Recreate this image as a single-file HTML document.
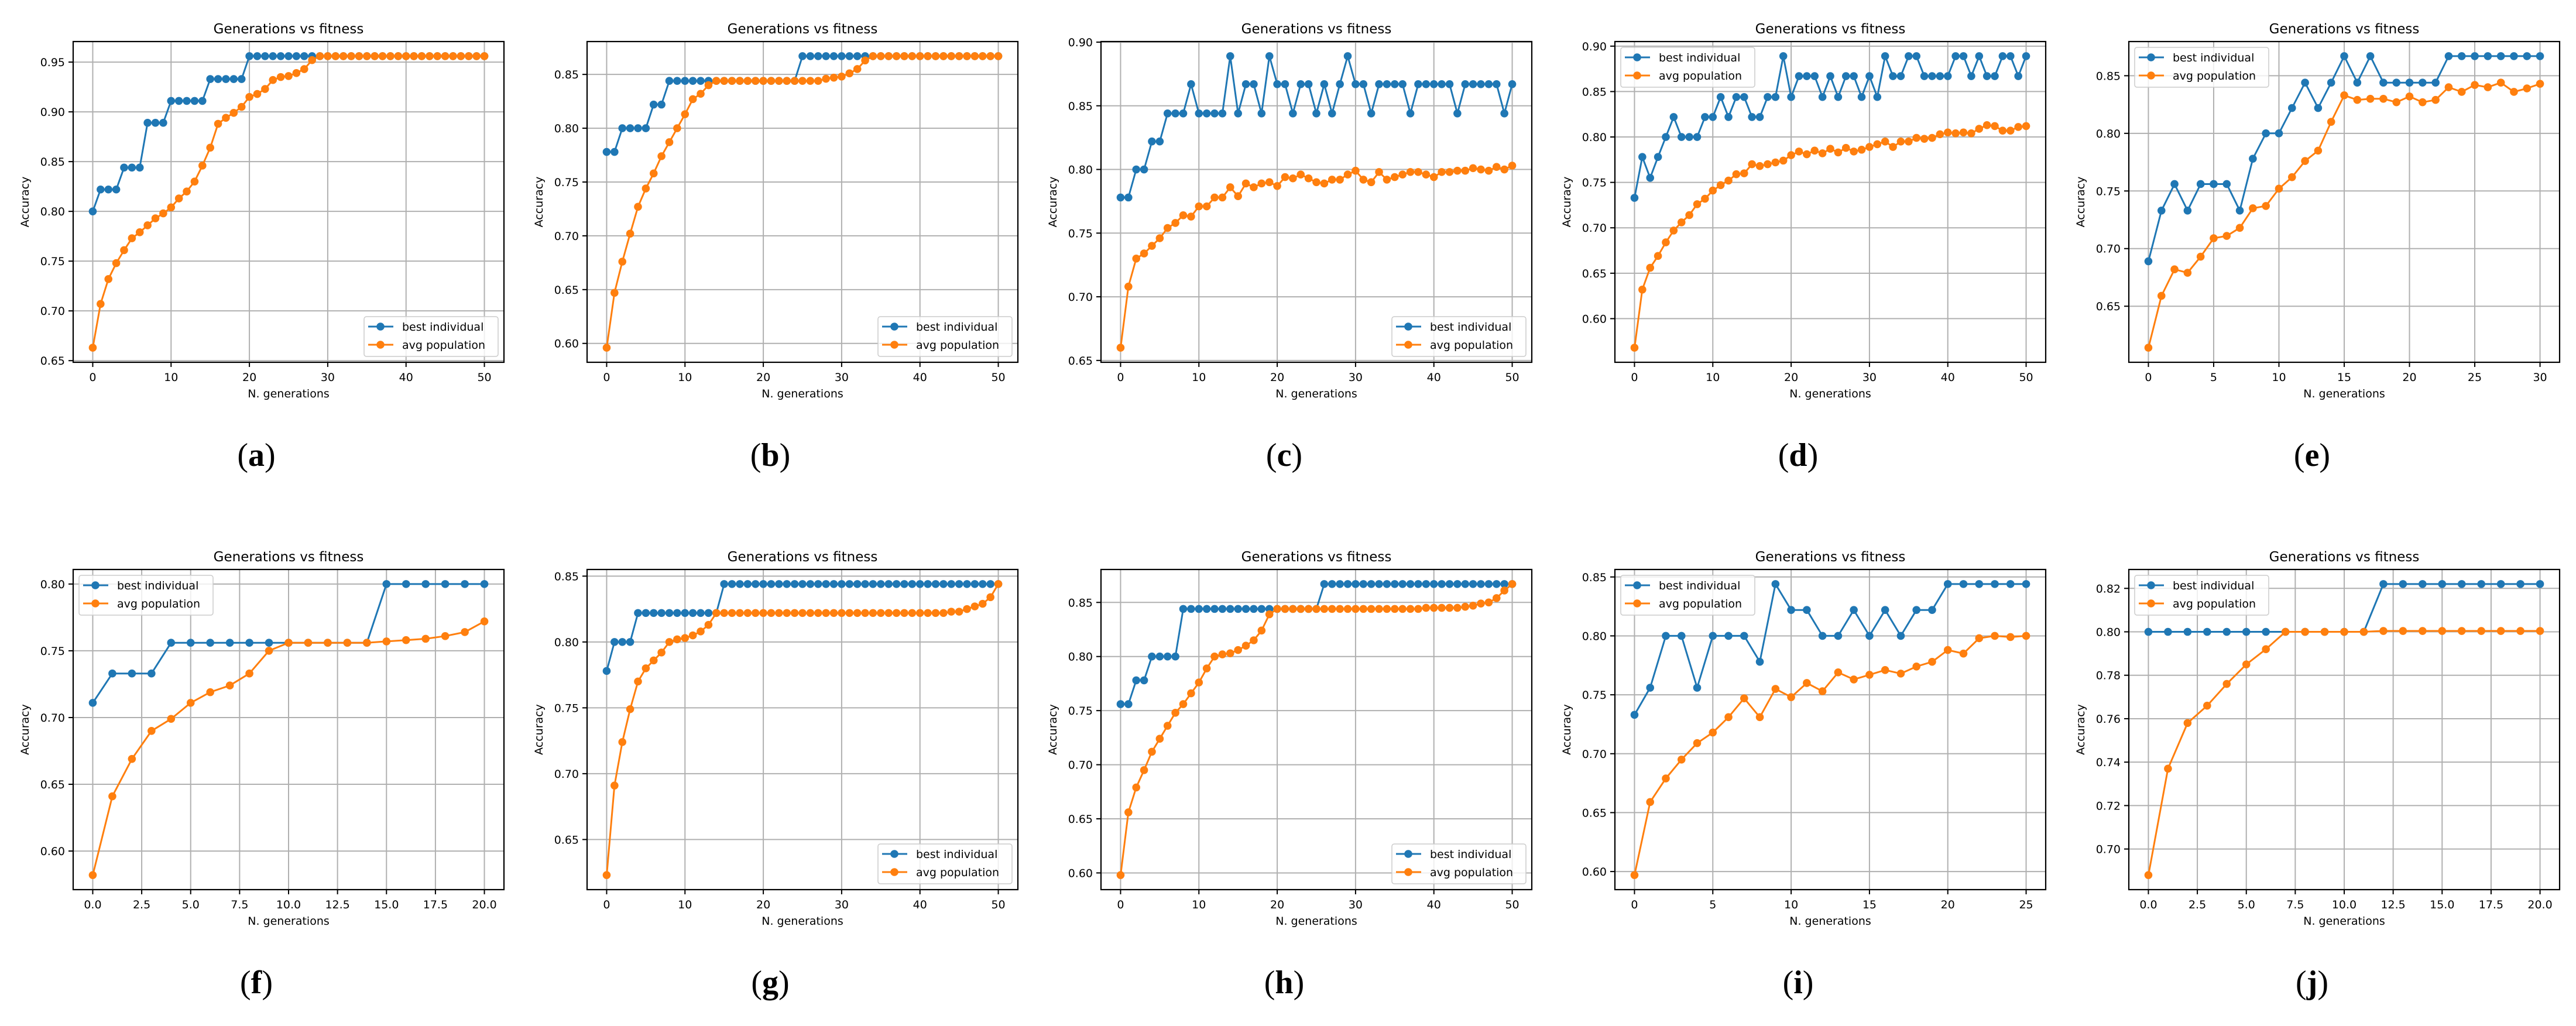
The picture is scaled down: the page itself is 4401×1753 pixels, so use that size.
<!DOCTYPE html>
<html><head><meta charset="utf-8"><style>
html,body{margin:0;padding:0;background:#fff;}
svg{display:block;}
text{font-family:"DejaVu Sans","Liberation Sans",sans-serif;fill:#000;}
.lett{font-family:"Liberation Serif",serif;}
</style></head><body>
<svg id="fig" xmlns="http://www.w3.org/2000/svg" width="4401" height="1753" viewBox="0 0 4401 1753"></svg>
<script>
// ---- data ----
const bestA=[0.800,0.822,0.822,0.822,0.844,0.844,0.844,0.889,0.889,0.889,0.911,0.911,0.911,0.911,0.911,0.933,0.933,0.933,0.933,0.933,0.956,0.956,0.956,0.956,0.956,0.956,0.956,0.956,0.956,0.956,0.956,0.956,0.956,0.956,0.956,0.956,0.956,0.956,0.956,0.956,0.956,0.956,0.956,0.956,0.956,0.956,0.956,0.956,0.956,0.956,0.956];
const avgA=[0.663,0.707,0.732,0.748,0.761,0.773,0.779,0.786,0.793,0.798,0.804,0.813,0.820,0.830,0.846,0.864,0.888,0.894,0.899,0.905,0.915,0.918,0.923,0.932,0.935,0.936,0.939,0.943,0.952,0.956,0.956,0.956,0.956,0.956,0.956,0.956,0.956,0.956,0.956,0.956,0.956,0.956,0.956,0.956,0.956,0.956,0.956,0.956,0.956,0.956,0.956];
const bestB=[0.778,0.778,0.800,0.800,0.800,0.800,0.822,0.822,0.844,0.844,0.844,0.844,0.844,0.844,0.844,0.844,0.844,0.844,0.844,0.844,0.844,0.844,0.844,0.844,0.844,0.867,0.867,0.867,0.867,0.867,0.867,0.867,0.867,0.867,0.867,0.867,0.867,0.867,0.867,0.867,0.867,0.867,0.867,0.867,0.867,0.867,0.867,0.867,0.867,0.867,0.867];
const avgB=[0.596,0.647,0.676,0.702,0.727,0.744,0.758,0.774,0.787,0.800,0.813,0.827,0.832,0.840,0.844,0.844,0.844,0.844,0.844,0.844,0.844,0.844,0.844,0.844,0.844,0.844,0.844,0.844,0.846,0.847,0.848,0.851,0.855,0.863,0.867,0.867,0.867,0.867,0.867,0.867,0.867,0.867,0.867,0.867,0.867,0.867,0.867,0.867,0.867,0.867,0.867];
const bestC=[0.778,0.778,0.800,0.800,0.822,0.822,0.844,0.844,0.844,0.867,0.844,0.844,0.844,0.844,0.889,0.844,0.867,0.867,0.844,0.889,0.867,0.867,0.844,0.867,0.867,0.844,0.867,0.844,0.867,0.889,0.867,0.867,0.844,0.867,0.867,0.867,0.867,0.844,0.867,0.867,0.867,0.867,0.867,0.844,0.867,0.867,0.867,0.867,0.867,0.844,0.867];
const avgC=[0.660,0.708,0.730,0.734,0.740,0.746,0.754,0.758,0.764,0.763,0.771,0.771,0.778,0.778,0.786,0.779,0.789,0.786,0.789,0.790,0.787,0.794,0.793,0.796,0.793,0.790,0.789,0.792,0.792,0.796,0.799,0.792,0.790,0.798,0.792,0.794,0.796,0.798,0.798,0.796,0.794,0.798,0.798,0.799,0.799,0.801,0.800,0.799,0.802,0.800,0.803];
const bestD=[0.733,0.778,0.755,0.778,0.800,0.822,0.800,0.800,0.800,0.822,0.822,0.844,0.822,0.844,0.844,0.822,0.822,0.844,0.844,0.889,0.844,0.867,0.867,0.867,0.844,0.867,0.844,0.867,0.867,0.844,0.867,0.844,0.889,0.867,0.867,0.889,0.889,0.867,0.867,0.867,0.867,0.889,0.889,0.867,0.889,0.867,0.867,0.889,0.889,0.867,0.889];
const avgD=[0.568,0.632,0.656,0.669,0.684,0.697,0.706,0.714,0.726,0.732,0.741,0.747,0.752,0.759,0.760,0.770,0.768,0.770,0.772,0.774,0.780,0.784,0.781,0.785,0.782,0.787,0.783,0.788,0.784,0.786,0.789,0.792,0.795,0.789,0.795,0.795,0.799,0.798,0.799,0.803,0.805,0.804,0.805,0.804,0.809,0.813,0.812,0.807,0.807,0.811,0.812];
const bestE=[0.689,0.733,0.756,0.733,0.756,0.756,0.756,0.733,0.778,0.800,0.800,0.822,0.844,0.822,0.844,0.867,0.844,0.867,0.844,0.844,0.844,0.844,0.844,0.867,0.867,0.867,0.867,0.867,0.867,0.867,0.867];
const avgE=[0.614,0.659,0.682,0.679,0.693,0.709,0.711,0.718,0.735,0.737,0.752,0.762,0.776,0.785,0.810,0.833,0.829,0.830,0.830,0.827,0.832,0.827,0.829,0.840,0.836,0.842,0.840,0.844,0.836,0.839,0.843];
const bestF=[0.711,0.733,0.733,0.733,0.756,0.756,0.756,0.756,0.756,0.756,0.756,0.756,0.756,0.756,0.756,0.800,0.800,0.800,0.800,0.800,0.800];
const avgF=[0.582,0.641,0.669,0.690,0.699,0.711,0.719,0.724,0.733,0.750,0.756,0.756,0.756,0.756,0.756,0.757,0.758,0.759,0.761,0.764,0.772];
const bestG=[0.778,0.800,0.800,0.800,0.822,0.822,0.822,0.822,0.822,0.822,0.822,0.822,0.822,0.822,0.822,0.844,0.844,0.844,0.844,0.844,0.844,0.844,0.844,0.844,0.844,0.844,0.844,0.844,0.844,0.844,0.844,0.844,0.844,0.844,0.844,0.844,0.844,0.844,0.844,0.844,0.844,0.844,0.844,0.844,0.844,0.844,0.844,0.844,0.844,0.844,0.844];
const avgG=[0.623,0.691,0.724,0.749,0.770,0.780,0.786,0.792,0.800,0.802,0.803,0.805,0.808,0.813,0.822,0.822,0.822,0.822,0.822,0.822,0.822,0.822,0.822,0.822,0.822,0.822,0.822,0.822,0.822,0.822,0.822,0.822,0.822,0.822,0.822,0.822,0.822,0.822,0.822,0.822,0.822,0.822,0.822,0.822,0.823,0.823,0.825,0.827,0.829,0.834,0.844];
const bestH=[0.756,0.756,0.778,0.778,0.800,0.800,0.800,0.800,0.844,0.844,0.844,0.844,0.844,0.844,0.844,0.844,0.844,0.844,0.844,0.844,0.844,0.844,0.844,0.844,0.844,0.844,0.867,0.867,0.867,0.867,0.867,0.867,0.867,0.867,0.867,0.867,0.867,0.867,0.867,0.867,0.867,0.867,0.867,0.867,0.867,0.867,0.867,0.867,0.867,0.867,0.867];
const avgH=[0.598,0.656,0.679,0.695,0.712,0.724,0.736,0.748,0.756,0.766,0.776,0.789,0.800,0.802,0.803,0.806,0.810,0.815,0.824,0.839,0.844,0.844,0.844,0.844,0.844,0.844,0.844,0.844,0.844,0.844,0.844,0.844,0.844,0.844,0.844,0.844,0.844,0.844,0.844,0.845,0.845,0.845,0.845,0.845,0.846,0.847,0.849,0.850,0.854,0.861,0.867];
const bestI=[0.733,0.756,0.800,0.800,0.756,0.800,0.800,0.800,0.778,0.844,0.822,0.822,0.800,0.800,0.822,0.800,0.822,0.800,0.822,0.822,0.844,0.844,0.844,0.844,0.844,0.844];
const avgI=[0.597,0.659,0.679,0.695,0.709,0.718,0.731,0.747,0.731,0.755,0.748,0.760,0.753,0.769,0.763,0.767,0.771,0.768,0.774,0.778,0.788,0.785,0.798,0.800,0.799,0.800];
const bestJ=[0.800,0.800,0.800,0.800,0.800,0.800,0.800,0.800,0.800,0.800,0.800,0.800,0.822,0.822,0.822,0.822,0.822,0.822,0.822,0.822,0.822];
const avgJ=[0.688,0.737,0.758,0.766,0.776,0.785,0.792,0.800,0.800,0.800,0.800,0.800,0.8004,0.8004,0.8004,0.8004,0.8004,0.8004,0.8004,0.8004,0.8004];
const yTicks05a=[0.65,0.70,0.75,0.80,0.85,0.90,0.95];
const yTicksB=[0.60,0.65,0.70,0.75,0.80,0.85];
const yTicksC=[0.65,0.70,0.75,0.80,0.85,0.90];
const yTicksD=[0.60,0.65,0.70,0.75,0.80,0.85,0.90];
const yTicksE=[0.65,0.70,0.75,0.80,0.85];
const yTicksF=[0.60,0.65,0.70,0.75,0.80];
const yTicksG=[0.65,0.70,0.75,0.80,0.85];
const yTicksJ=[0.70,0.72,0.74,0.76,0.78,0.80,0.82];
const xTicks50=[0,10,20,30,40,50];
const xTicks30=[0,5,10,15,20,25,30];
const xTicks25=[0,5,10,15,20,25];
const xTicks20=[0,2.5,5,7.5,10,12.5,15,17.5,20];
const letters=['a','b','c','d','e','f','g','h','i','j'];

// ---- rendering ----
const NS='http://www.w3.org/2000/svg';
const svg=document.getElementById('fig');
function mk(tag,attrs,parent){const e=document.createElementNS(NS,tag);for(const k in attrs)e.setAttribute(k,attrs[k]);(parent||svg).appendChild(e);return e;}
const BLUE='#1f77b4',ORANGE='#ff7f0e';
const panels=[
 {best:bestA,avg:avgA,yt:yTicks05a,xt:xTicks50,dec:0,leg:'lr'},
 {best:bestB,avg:avgB,yt:yTicksB,xt:xTicks50,dec:0,leg:'lr'},
 {best:bestC,avg:avgC,yt:yTicksC,xt:xTicks50,dec:0,leg:'lr'},
 {best:bestD,avg:avgD,yt:yTicksD,xt:xTicks50,dec:0,leg:'ul'},
 {best:bestE,avg:avgE,yt:yTicksE,xt:xTicks30,dec:0,leg:'ul'},
 {best:bestF,avg:avgF,yt:yTicksF,xt:xTicks20,dec:1,leg:'ul'},
 {best:bestG,avg:avgG,yt:yTicksG,xt:xTicks50,dec:0,leg:'lr'},
 {best:bestH,avg:avgH,yt:yTicksB,xt:xTicks50,dec:0,leg:'lr'},
 {best:bestI,avg:avgI,yt:yTicksB,xt:xTicks25,dec:0,leg:'ul'},
 {best:bestJ,avg:avgJ,yt:yTicksJ,xt:xTicks20,dec:1,leg:'ul'}
];
panels.forEach((p,i)=>{
  const col=i%5,row=Math.floor(i/5);
  const L=125+col*878, W=736, T=row?973:71, H=row?547:548, B=T+H, R=L+W;
  const g=mk('g',{});
  
  
  const n=p.best.length-1;
  const x0=-0.05*n,x1=n*1.05;
  const all=p.best.concat(p.avg);
  const mn=Math.min(...all),mx=Math.max(...all),rg=mx-mn;
  const y0=mn-0.05*rg,y1=mx+0.05*rg;
  const sx=v=>L+(v-x0)/(x1-x0)*W;
  const sy=v=>B-(v-y0)/(y1-y0)*H;
  const grid=mk('g',{},g);
  
  
  p.xt.forEach(t=>{mk('line',{x1:sx(t),x2:sx(t),y1:T,y2:B,stroke:'#b0b0b0','stroke-width':2},grid);});
  p.yt.forEach(t=>{mk('line',{x1:L,x2:R,y1:sy(t),y2:sy(t),stroke:'#b0b0b0','stroke-width':2},grid);});
  const xa=mk('g',{},g);
  
  
  p.xt.forEach(t=>{
    mk('line',{x1:sx(t),x2:sx(t),y1:B,y2:B+8,stroke:'#000','stroke-width':2},xa);
    const tx=mk('text',{x:sx(t),y:B+32,'font-size':19,'text-anchor':'middle'},xa);
    tx.textContent=t.toFixed(p.dec);
  });
  const xl=mk('text',{x:(L+R)/2,y:B+60,'font-size':19,'text-anchor':'middle'},g);
  
  
  xl.textContent='N. generations';
  const ya=mk('g',{},g);
  
  
  p.yt.forEach(t=>{
    mk('line',{x1:L-8,x2:L,y1:sy(t),y2:sy(t),stroke:'#000','stroke-width':2},ya);
    const tx=mk('text',{x:L-14,y:sy(t)+7,'font-size':19,'text-anchor':'end'},ya);
    tx.textContent=t.toFixed(2);
  });
  const yl=mk('text',{x:0,y:0,'font-size':19,'text-anchor':'middle',transform:`translate(${L-76},${(T+B)/2}) rotate(-90)`},g);
  
  
  yl.textContent='Accuracy';
  const ti=mk('text',{x:(L+R)/2,y:T-14,'font-size':23,'text-anchor':'middle'},g);
  
  
  ti.textContent='Generations vs fitness';
  [[p.best,BLUE,'best-individual'],[p.avg,ORANGE,'avg-population']].forEach(([arr,c,nm])=>{
    const s=mk('g',{},g);
    
    
    const pts=arr.map((v,k)=>sx(k).toFixed(1)+','+sy(v).toFixed(1)).join(' ');
    mk('polyline',{points:pts,fill:'none',stroke:c,'stroke-width':3,'stroke-linejoin':'round'},s);
    arr.forEach((v,k)=>{
      const d=mk('circle',{cx:sx(k),cy:sy(v),r:6.8,fill:c},s);
      
      
    });
  });
  mk('rect',{x:L,y:T,width:W,height:H,fill:'none',stroke:'#000','stroke-width':2.2},g);
  const lw=229,lh=68;
  const lx=p.leg==='lr'?R-10-lw:L+10, ly=p.leg==='lr'?B-10-lh:T+10;
  const lg=mk('g',{},g);
  
  
  mk('rect',{x:lx,y:ly,width:lw,height:lh,rx:4,fill:'#fff','fill-opacity':0.8,stroke:'#cccccc','stroke-width':1.5},lg);
  [['best individual',BLUE],['avg population',ORANGE]].forEach(([lab,c],k)=>{
    const e=mk('g',{},lg);
    
    
    const yy=ly+17+k*31;
    mk('line',{x1:lx+7,x2:lx+50,y1:yy,y2:yy,stroke:c,'stroke-width':3},e);
    mk('circle',{cx:lx+28,cy:yy,r:6.8,fill:c},e);
    const t=mk('text',{x:lx+65,y:yy+7,'font-size':19},e);
    t.textContent=lab;
  });
  const lt=mk('text',{x:L+313,y:B+177,'font-size':56,'text-anchor':'middle',class:'lett'},g);
  
  
  const o=mk('tspan',{},lt);o.textContent='(';
  const b=mk('tspan',{'font-weight':'bold'},lt);b.textContent=letters[i];
  const c2=mk('tspan',{},lt);c2.textContent=')';
});
</script>
</body></html>
